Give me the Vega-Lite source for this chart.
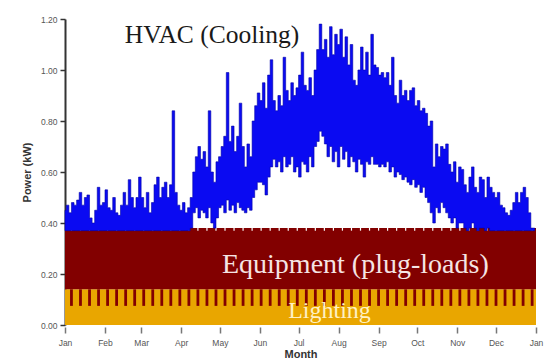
{
  "$schema": "https://vega.github.io/schema/vega-lite/v6.json",
  "width": 471,
  "height": 306,
  "autosize": {"type": "none"},
  "padding": {"left": 65, "top": 19, "right": 9, "bottom": 37},
  "background": "white",
  "config": {"view": {"stroke": null}},
  "datasets": {
    "base": [
      {"d": "2019-01-01", "lt": 0.14, "eq": 0.38},
      {"d": "2020-01-01", "lt": 0.14, "eq": 0.38}
    ],
    "weekends": [
      {"d": "2019-01-06"},{"d": "2019-01-13"},{"d": "2019-01-20"},{"d": "2019-01-27"},
      {"d": "2019-02-03"},{"d": "2019-02-10"},{"d": "2019-02-17"},{"d": "2019-02-24"},
      {"d": "2019-03-03"},{"d": "2019-03-10"},{"d": "2019-03-17"},{"d": "2019-03-24"},{"d": "2019-03-31"},
      {"d": "2019-04-07"},{"d": "2019-04-14"},{"d": "2019-04-21"},{"d": "2019-04-28"},
      {"d": "2019-05-05"},{"d": "2019-05-12"},{"d": "2019-05-19"},{"d": "2019-05-26"},
      {"d": "2019-06-02"},{"d": "2019-06-09"},{"d": "2019-06-16"},{"d": "2019-06-23"},{"d": "2019-06-30"},
      {"d": "2019-07-07"},{"d": "2019-07-14"},{"d": "2019-07-21"},{"d": "2019-07-28"},
      {"d": "2019-08-04"},{"d": "2019-08-11"},{"d": "2019-08-18"},{"d": "2019-08-25"},
      {"d": "2019-09-01"},{"d": "2019-09-08"},{"d": "2019-09-15"},{"d": "2019-09-22"},{"d": "2019-09-29"},
      {"d": "2019-10-06"},{"d": "2019-10-13"},{"d": "2019-10-20"},{"d": "2019-10-27"},
      {"d": "2019-11-03"},{"d": "2019-11-10"},{"d": "2019-11-17"},{"d": "2019-11-24"},
      {"d": "2019-12-01"},{"d": "2019-12-08"},{"d": "2019-12-15"},{"d": "2019-12-22"},{"d": "2019-12-29"}
    ],
    "hvac": [
      {"d":"2019-01-01","hi":0.45,"lo":0.37},{"d":"2019-01-03","hi":0.47,"lo":0.37},{"d":"2019-01-05","hi":0.44,"lo":0.37},{"d":"2019-01-07","hi":0.48,"lo":0.37},
      {"d":"2019-01-09","hi":0.47,"lo":0.37},{"d":"2019-01-11","hi":0.49,"lo":0.37},{"d":"2019-01-13","hi":0.52,"lo":0.37},{"d":"2019-01-15","hi":0.47,"lo":0.37},
      {"d":"2019-01-17","hi":0.50,"lo":0.37},{"d":"2019-01-19","hi":0.51,"lo":0.37},{"d":"2019-01-21","hi":0.42,"lo":0.37},{"d":"2019-01-23","hi":0.40,"lo":0.37},
      {"d":"2019-01-25","hi":0.45,"lo":0.37},{"d":"2019-01-27","hi":0.54,"lo":0.37},{"d":"2019-01-29","hi":0.47,"lo":0.37},{"d":"2019-01-31","hi":0.48,"lo":0.37},
      {"d":"2019-02-02","hi":0.53,"lo":0.37},{"d":"2019-02-04","hi":0.46,"lo":0.37},{"d":"2019-02-06","hi":0.45,"lo":0.37},{"d":"2019-02-08","hi":0.50,"lo":0.37},
      {"d":"2019-02-10","hi":0.44,"lo":0.37},{"d":"2019-02-12","hi":0.43,"lo":0.37},{"d":"2019-02-14","hi":0.47,"lo":0.37},{"d":"2019-02-16","hi":0.52,"lo":0.37},
      {"d":"2019-02-18","hi":0.47,"lo":0.37},{"d":"2019-02-20","hi":0.57,"lo":0.37},{"d":"2019-02-22","hi":0.50,"lo":0.37},{"d":"2019-02-24","hi":0.46,"lo":0.37},
      {"d":"2019-02-26","hi":0.50,"lo":0.37},{"d":"2019-02-28","hi":0.58,"lo":0.37},
      {"d":"2019-03-02","hi":0.50,"lo":0.37},{"d":"2019-03-04","hi":0.46,"lo":0.37},{"d":"2019-03-06","hi":0.52,"lo":0.37},{"d":"2019-03-08","hi":0.44,"lo":0.37},
      {"d":"2019-03-10","hi":0.48,"lo":0.37},{"d":"2019-03-12","hi":0.55,"lo":0.37},{"d":"2019-03-14","hi":0.58,"lo":0.37},{"d":"2019-03-16","hi":0.50,"lo":0.37},
      {"d":"2019-03-18","hi":0.54,"lo":0.37},{"d":"2019-03-20","hi":0.56,"lo":0.37},{"d":"2019-03-22","hi":0.50,"lo":0.37},{"d":"2019-03-24","hi":0.55,"lo":0.37},
      {"d":"2019-03-26","hi":0.84,"lo":0.37},{"d":"2019-03-28","hi":0.52,"lo":0.37},{"d":"2019-03-30","hi":0.47,"lo":0.37},
      {"d":"2019-04-01","hi":0.45,"lo":0.37},{"d":"2019-04-03","hi":0.48,"lo":0.37},{"d":"2019-04-05","hi":0.44,"lo":0.37},{"d":"2019-04-07","hi":0.46,"lo":0.37},
      {"d":"2019-04-09","hi":0.50,"lo":0.38},{"d":"2019-04-11","hi":0.60,"lo":0.44},{"d":"2019-04-13","hi":0.66,"lo":0.46},{"d":"2019-04-15","hi":0.70,"lo":0.42},
      {"d":"2019-04-17","hi":0.65,"lo":0.45},{"d":"2019-04-19","hi":0.68,"lo":0.44},{"d":"2019-04-21","hi":0.62,"lo":0.42},{"d":"2019-04-23","hi":0.84,"lo":0.46},
      {"d":"2019-04-25","hi":0.60,"lo":0.40},{"d":"2019-04-27","hi":0.56,"lo":0.38},{"d":"2019-04-29","hi":0.64,"lo":0.42},
      {"d":"2019-05-01","hi":0.66,"lo":0.46},{"d":"2019-05-03","hi":0.70,"lo":0.47},{"d":"2019-05-05","hi":0.74,"lo":0.44},{"d":"2019-05-07","hi":0.99,"lo":0.49},
      {"d":"2019-05-09","hi":0.72,"lo":0.45},{"d":"2019-05-11","hi":0.78,"lo":0.47},{"d":"2019-05-13","hi":0.68,"lo":0.44},{"d":"2019-05-15","hi":0.74,"lo":0.48},
      {"d":"2019-05-17","hi":0.87,"lo":0.46},{"d":"2019-05-19","hi":0.70,"lo":0.45},{"d":"2019-05-21","hi":0.62,"lo":0.44},{"d":"2019-05-23","hi":0.71,"lo":0.46},
      {"d":"2019-05-25","hi":0.66,"lo":0.45},{"d":"2019-05-27","hi":0.80,"lo":0.50},{"d":"2019-05-29","hi":0.86,"lo":0.53},{"d":"2019-05-31","hi":0.91,"lo":0.56},
      {"d":"2019-06-02","hi":0.88,"lo":0.56},{"d":"2019-06-04","hi":0.95,"lo":0.55},{"d":"2019-06-06","hi":0.85,"lo":0.51},{"d":"2019-06-08","hi":0.98,"lo":0.58},
      {"d":"2019-06-10","hi":1.04,"lo":0.62},{"d":"2019-06-12","hi":0.88,"lo":0.65},{"d":"2019-06-14","hi":0.84,"lo":0.62},{"d":"2019-06-16","hi":0.90,"lo":0.64},
      {"d":"2019-06-18","hi":0.86,"lo":0.60},{"d":"2019-06-20","hi":1.05,"lo":0.66},{"d":"2019-06-22","hi":0.92,"lo":0.62},{"d":"2019-06-24","hi":0.88,"lo":0.63},
      {"d":"2019-06-26","hi":0.95,"lo":0.66},{"d":"2019-06-28","hi":0.90,"lo":0.60},{"d":"2019-06-30","hi":0.93,"lo":0.62},
      {"d":"2019-07-02","hi":0.98,"lo":0.58},{"d":"2019-07-04","hi":1.07,"lo":0.64},{"d":"2019-07-06","hi":0.94,"lo":0.63},{"d":"2019-07-08","hi":0.92,"lo":0.60},
      {"d":"2019-07-10","hi":0.97,"lo":0.66},{"d":"2019-07-12","hi":0.90,"lo":0.62},{"d":"2019-07-14","hi":1.00,"lo":0.70},{"d":"2019-07-16","hi":1.08,"lo":0.72},
      {"d":"2019-07-18","hi":1.18,"lo":0.76},{"d":"2019-07-20","hi":1.08,"lo":0.74},{"d":"2019-07-22","hi":1.12,"lo":0.71},{"d":"2019-07-24","hi":1.05,"lo":0.66},
      {"d":"2019-07-26","hi":1.17,"lo":0.70},{"d":"2019-07-28","hi":1.06,"lo":0.64},{"d":"2019-07-30","hi":1.14,"lo":0.68},
      {"d":"2019-08-01","hi":1.10,"lo":0.62},{"d":"2019-08-03","hi":1.16,"lo":0.70},{"d":"2019-08-05","hi":1.05,"lo":0.65},{"d":"2019-08-07","hi":1.13,"lo":0.68},
      {"d":"2019-08-09","hi":1.02,"lo":0.62},{"d":"2019-08-11","hi":1.10,"lo":0.66},{"d":"2019-08-13","hi":0.96,"lo":0.64},{"d":"2019-08-15","hi":0.94,"lo":0.60},
      {"d":"2019-08-17","hi":1.00,"lo":0.65},{"d":"2019-08-19","hi":1.09,"lo":0.63},{"d":"2019-08-21","hi":1.00,"lo":0.58},{"d":"2019-08-23","hi":1.07,"lo":0.64},
      {"d":"2019-08-25","hi":0.98,"lo":0.63},{"d":"2019-08-27","hi":1.14,"lo":0.66},{"d":"2019-08-29","hi":1.02,"lo":0.63},{"d":"2019-08-31","hi":1.01,"lo":0.63},
      {"d":"2019-09-02","hi":0.98,"lo":0.62},{"d":"2019-09-04","hi":0.99,"lo":0.63},{"d":"2019-09-06","hi":0.97,"lo":0.62},{"d":"2019-09-08","hi":0.99,"lo":0.64},
      {"d":"2019-09-10","hi":0.94,"lo":0.60},{"d":"2019-09-12","hi":1.05,"lo":0.62},{"d":"2019-09-14","hi":0.90,"lo":0.58},{"d":"2019-09-16","hi":0.87,"lo":0.60},
      {"d":"2019-09-18","hi":0.96,"lo":0.59},{"d":"2019-09-20","hi":0.90,"lo":0.57},{"d":"2019-09-22","hi":0.92,"lo":0.58},{"d":"2019-09-24","hi":0.88,"lo":0.56},
      {"d":"2019-09-26","hi":0.92,"lo":0.55},{"d":"2019-09-28","hi":0.93,"lo":0.57},{"d":"2019-09-30","hi":0.86,"lo":0.54},
      {"d":"2019-10-02","hi":0.88,"lo":0.55},{"d":"2019-10-04","hi":0.84,"lo":0.52},{"d":"2019-10-06","hi":0.85,"lo":0.54},{"d":"2019-10-08","hi":0.83,"lo":0.50},
      {"d":"2019-10-10","hi":0.78,"lo":0.48},{"d":"2019-10-12","hi":0.80,"lo":0.44},{"d":"2019-10-14","hi":0.62,"lo":0.40},{"d":"2019-10-16","hi":0.71,"lo":0.46},
      {"d":"2019-10-18","hi":0.66,"lo":0.44},{"d":"2019-10-20","hi":0.70,"lo":0.48},{"d":"2019-10-22","hi":0.69,"lo":0.46},{"d":"2019-10-24","hi":0.71,"lo":0.44},
      {"d":"2019-10-26","hi":0.63,"lo":0.42},{"d":"2019-10-28","hi":0.60,"lo":0.40},{"d":"2019-10-30","hi":0.64,"lo":0.42},
      {"d":"2019-11-01","hi":0.56,"lo":0.38},{"d":"2019-11-03","hi":0.62,"lo":0.40},{"d":"2019-11-05","hi":0.61,"lo":0.40},{"d":"2019-11-07","hi":0.55,"lo":0.38},
      {"d":"2019-11-09","hi":0.52,"lo":0.37},{"d":"2019-11-11","hi":0.58,"lo":0.38},{"d":"2019-11-13","hi":0.62,"lo":0.40},{"d":"2019-11-15","hi":0.54,"lo":0.38},
      {"d":"2019-11-17","hi":0.52,"lo":0.37},{"d":"2019-11-19","hi":0.58,"lo":0.38},{"d":"2019-11-21","hi":0.57,"lo":0.38},{"d":"2019-11-23","hi":0.50,"lo":0.37},
      {"d":"2019-11-25","hi":0.58,"lo":0.38},{"d":"2019-11-27","hi":0.54,"lo":0.37},{"d":"2019-11-29","hi":0.52,"lo":0.37},
      {"d":"2019-12-01","hi":0.50,"lo":0.37},{"d":"2019-12-03","hi":0.52,"lo":0.37},{"d":"2019-12-05","hi":0.47,"lo":0.37},{"d":"2019-12-07","hi":0.46,"lo":0.37},
      {"d":"2019-12-09","hi":0.44,"lo":0.37},{"d":"2019-12-11","hi":0.43,"lo":0.37},{"d":"2019-12-13","hi":0.45,"lo":0.37},{"d":"2019-12-15","hi":0.48,"lo":0.37},
      {"d":"2019-12-17","hi":0.52,"lo":0.37},{"d":"2019-12-19","hi":0.48,"lo":0.37},{"d":"2019-12-21","hi":0.52,"lo":0.37},{"d":"2019-12-23","hi":0.54,"lo":0.37},
      {"d":"2019-12-25","hi":0.50,"lo":0.37},{"d":"2019-12-27","hi":0.44,"lo":0.37},{"d":"2019-12-29","hi":0.38,"lo":0.37},{"d":"2019-12-31","hi":0.38,"lo":0.37}
    ],
    "labels": [
      {"d": "2019-04-25", "v": 1.106, "label": "HVAC (Cooling)", "kind": "hvac"},
      {"d": "2019-08-14", "v": 0.204, "label": "Equipment (plug-loads)", "kind": "equip"},
      {"d": "2019-07-25", "v": 0.027, "label": "Lighting", "kind": "light"}
    ]
  },
  "encoding": {
    "x": {
      "field": "d", "type": "temporal",
      "scale": {"type": "utc", "domain": [{"year": 2019, "month": 1, "date": 1, "utc": true}, {"year": 2020, "month": 1, "date": 1, "utc": true}], "nice": false},
      "axis": {
        "title": "Month", "format": "%b", "tickCount": "month",
        "grid": false, "domain": false, "offset": 2,
        "tickSize": 6, "tickColor": "#777", "tickWidth": 1.5,
        "labelFont": "Liberation Sans", "labelFontSize": 8.5, "labelColor": "#555", "labelPadding": 5,
        "labelOverlap": false, "labelFlush": false,
        "titleFont": "Liberation Sans", "titleFontSize": 11, "titleFontWeight": "bold", "titleColor": "#333", "titlePadding": 2
      }
    }
  },
  "layer": [
    {
      "data": {"name": "base"},
      "mark": {"type": "area", "color": "#E9A600"},
      "encoding": {
        "y": {"field": "lt", "type": "quantitative",
          "scale": {"domain": [0, 1.2], "nice": false, "zero": true},
          "axis": {
            "title": "Power (kW)",
            "values": [0,0.05,0.1,0.15,0.2,0.25,0.3,0.35,0.4,0.45,0.5,0.55,0.6,0.65,0.7,0.75,0.8,0.85,0.9,0.95,1.0,1.05,1.1,1.15,1.2],
            "labelExpr": "round(datum.value*100) % 10 == 0 ? format(datum.value, '.2f') : ''",
            "tickSize": {"condition": {"test": "round(datum.value*100) % 10 != 0", "value": 3}, "value": 5},
            "grid": false, "domainColor": "#333", "domainWidth": 2,
            "tickColor": "#333", "tickWidth": 1.5,
            "labelFont": "Liberation Sans", "labelFontSize": 8.5, "labelColor": "#555", "labelPadding": 3,
            "titleFont": "Liberation Sans", "titleFontSize": 11, "titleFontWeight": "bold", "titleColor": "#333", "titlePadding": 8
          }
        }
      }
    },
    {
      "data": {"name": "base"},
      "mark": {"type": "area", "color": "#820000"},
      "encoding": {
        "y": {"field": "eq", "type": "quantitative"},
        "y2": {"field": "lt"}
      }
    },
    {
      "data": {"name": "weekends"},
      "mark": {"type": "rule", "color": "#820000", "strokeWidth": 2.8},
      "encoding": {
        "y": {"datum": 0.075, "type": "quantitative"},
        "y2": {"datum": 0.14}
      }
    },
    {
      "data": {"name": "weekends"},
      "mark": {"type": "rule", "color": "#ffffff", "strokeWidth": 1.2},
      "encoding": {
        "y": {"datum": 0.37, "type": "quantitative"},
        "y2": {"datum": 0.385}
      }
    },
    {
      "data": {"name": "hvac"},
      "mark": {"type": "area", "interpolate": "step", "color": "#0a0af2", "stroke": "#0000a8", "strokeWidth": 0.6},
      "encoding": {
        "y": {"field": "hi", "type": "quantitative"},
        "y2": {"field": "lo"}
      }
    },
    {
      "data": {"name": "labels"},
      "transform": [{"filter": "datum.kind == 'hvac'"}],
      "mark": {"type": "text", "font": "Liberation Serif", "fontSize": 25.5, "color": "#1a1a1a", "baseline": "alphabetic", "align": "center"},
      "encoding": {"y": {"field": "v", "type": "quantitative"}, "text": {"field": "label"}}
    },
    {
      "data": {"name": "labels"},
      "transform": [{"filter": "datum.kind == 'equip'"}],
      "mark": {"type": "text", "font": "Liberation Serif", "fontSize": 28, "color": "#f5e4e4", "baseline": "alphabetic", "align": "center"},
      "encoding": {"y": {"field": "v", "type": "quantitative"}, "text": {"field": "label"}}
    },
    {
      "data": {"name": "labels"},
      "transform": [{"filter": "datum.kind == 'light'"}],
      "mark": {"type": "text", "font": "Liberation Serif", "fontSize": 24, "color": "#fff1c4", "baseline": "alphabetic", "align": "center"},
      "encoding": {"y": {"field": "v", "type": "quantitative"}, "text": {"field": "label"}}
    }
  ]
}
